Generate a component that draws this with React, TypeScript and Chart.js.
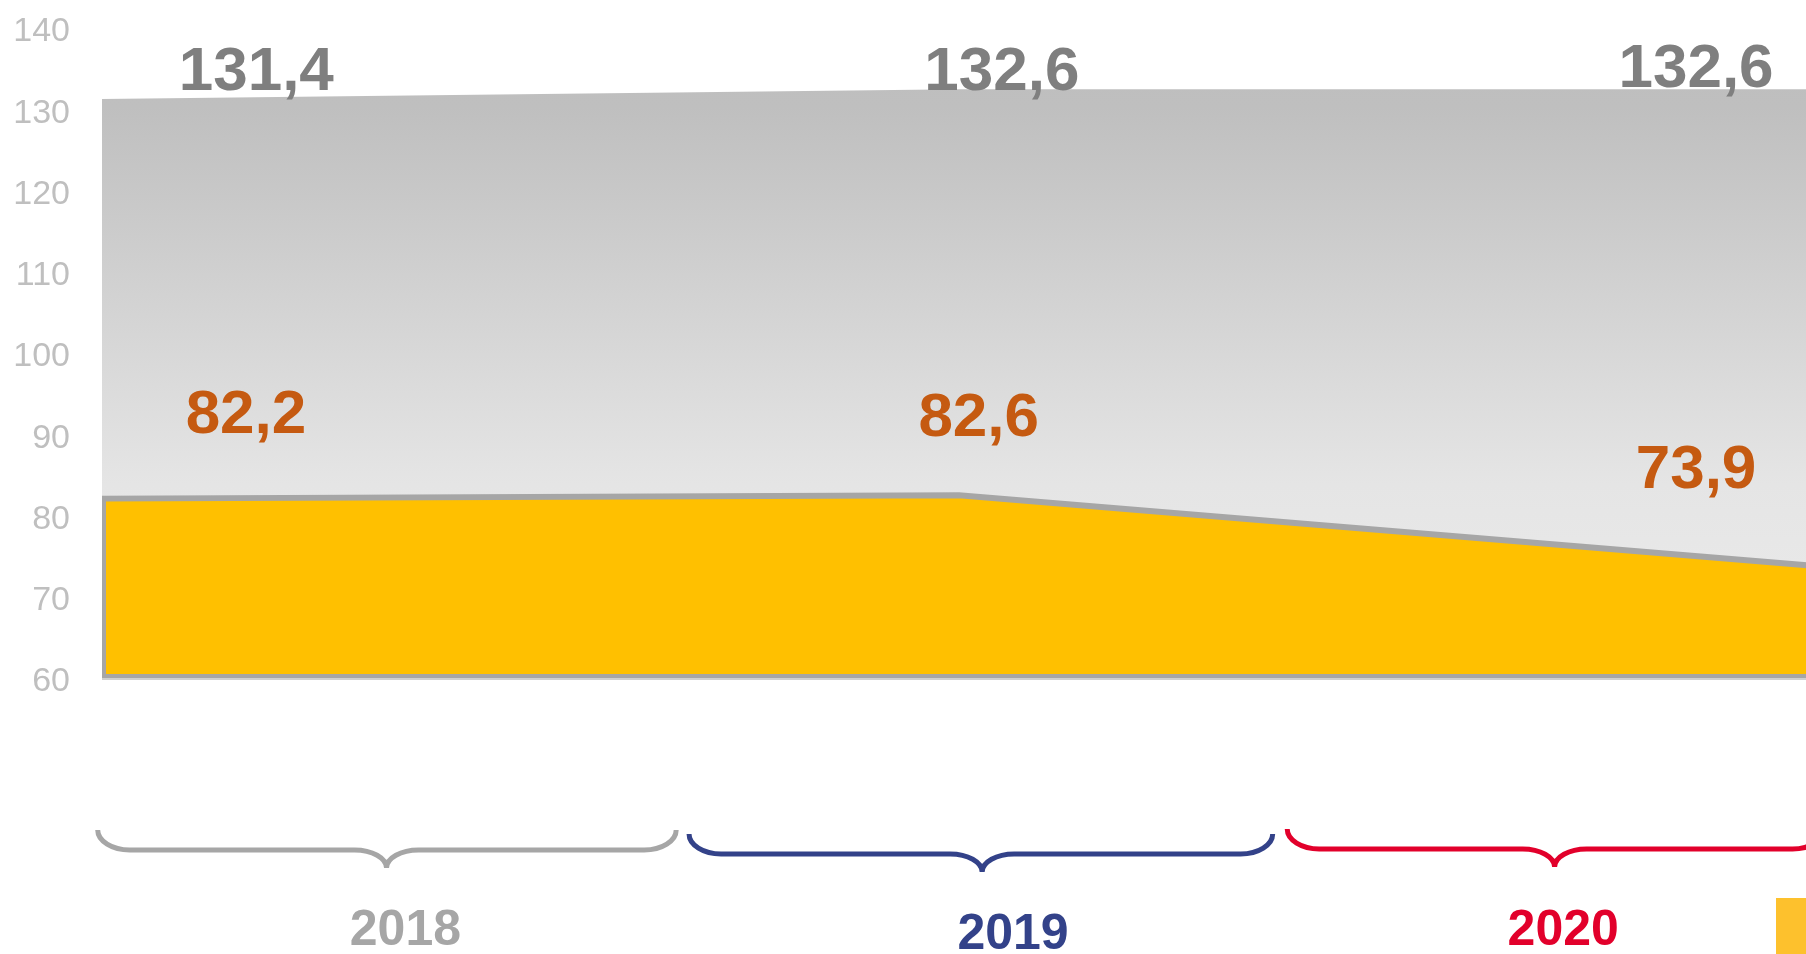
import React, { useEffect, useRef } from "react";
import { Chart, registerables } from "chart.js";

Chart.register(...registerables);

const years = ["2018", "2019", "2020"];
const totalValues = [131.4, 132.6, 132.6];
const partValues = [82.2, 82.6, 73.9];
const totalLabels = ["131,4", "132,6", "132,6"];
const partLabels = ["82,2", "82,6", "73,9"];
const yMin = 60;
const yMax = 140;
const yStep = 10;

// label anchor positions (in category / value units)
const totalLabelAt = [
  [0.18, 134.6],
  [1.05, 134.6],
  [1.86, 135.0],
];
const partLabelAt = [
  [0.168, 92.4],
  [1.023, 92.0],
  [1.86, 85.6],
];
// brace spans (category units): start, tip, end, and label centre
const braceStart = [-0.005, 0.685, 1.383];
const braceTip = [0.332, 1.027, 1.695];
const braceEnd = [0.67, 1.366, 2.01];
const yearLabelX = [0.354, 1.063, 1.705];
const yearColors = ["#a6a6a6", "#334289", "#e2002b"];

const FONT = "'Liberation Sans', Arial, sans-serif";

const overlayPlugin = {
  id: "overlay",
  afterDatasetsDraw(chart: any) {
    const { ctx, chartArea, scales } = chart;
    const xs = scales.x;
    const ys = scales.y;
    ctx.save();
    // yellow polygon left and bottom edges
    const meta = chart.getDatasetMeta(0);
    const p0 = meta.data[0];
    ctx.strokeStyle = "#a6a6a6";
    ctx.lineWidth = 4;
    ctx.beginPath();
    ctx.moveTo(chartArea.left + 2, p0.y);
    ctx.lineTo(chartArea.left + 2, chartArea.bottom - 3);
    ctx.lineTo(chartArea.right + 20, chartArea.bottom - 3);
    ctx.stroke();
    // axis line
    ctx.strokeStyle = "#d0d0d0";
    ctx.lineWidth = 2;
    ctx.beginPath();
    ctx.moveTo(chartArea.left, chartArea.bottom);
    ctx.lineTo(chartArea.right + 20, chartArea.bottom);
    ctx.stroke();

    // value labels
    ctx.textAlign = "center";
    ctx.textBaseline = "middle";
    ctx.font = `bold 62px ${FONT}`;
    ctx.fillStyle = "#7f7f7f";
    totalLabels.forEach((t, i) => {
      ctx.fillText(t, xs.getPixelForValue(totalLabelAt[i][0]), ys.getPixelForValue(totalLabelAt[i][1]));
    });
    ctx.fillStyle = "#c55a11";
    partLabels.forEach((t, i) => {
      ctx.fillText(t, xs.getPixelForValue(partLabelAt[i][0]), ys.getPixelForValue(partLabelAt[i][1]));
    });

    // braces
    const top = chartArea.bottom + 151;
    const line = chartArea.bottom + 171;
    const tipY = chartArea.bottom + 189;
    ctx.lineWidth = 5;
    ctx.lineCap = "butt";
    years.forEach((y, i) => {
      const dy = i === 1 ? 4 : i === 2 ? -1 : 0;
      const t = top + dy, l = line + dy, tp = tipY + dy;
      const x0 = xs.getPixelForValue(braceStart[i]);
      const xm = xs.getPixelForValue(braceTip[i]);
      const x1 = xs.getPixelForValue(braceEnd[i]);
      const r = 32;
      ctx.strokeStyle = yearColors[i];
      ctx.beginPath();
      ctx.moveTo(x0, t);
      ctx.bezierCurveTo(x0, t + 0.55 * (l - t), x0 + r * 0.45, l, x0 + r, l);
      ctx.lineTo(xm - r, l);
      ctx.bezierCurveTo(xm - r * 0.45, l, xm, tp - 0.55 * (tp - l), xm, tp);
      ctx.moveTo(xm, tp);
      ctx.bezierCurveTo(xm, tp - 0.55 * (tp - l), xm + r * 0.45, l, xm + r, l);
      ctx.lineTo(x1 - r, l);
      ctx.bezierCurveTo(x1 - r * 0.45, l, x1, t + 0.55 * (l - t), x1, t);
      ctx.stroke();
      // year label
      ctx.fillStyle = yearColors[i];
      ctx.font = `bold 50px ${FONT}`;
      ctx.fillText(y, xs.getPixelForValue(yearLabelX[i]), chartArea.bottom + 252 + (i === 1 ? 4 : 0));
    });

    // legend swatch fragment at bottom right
    ctx.fillStyle = "#fdc12d";
    ctx.fillRect(1776, 898, 40, 60);
    ctx.restore();
  },
};

export default function App() {
  const ref = useRef<HTMLCanvasElement | null>(null);
  useEffect(() => {
    if (!ref.current) return;
    const chart = new Chart(ref.current, {
      type: "line",
      data: {
        labels: years,
        datasets: [
          {
            label: "part",
            data: partValues,
            borderColor: "#a6a6a6",
            borderWidth: 6,
            backgroundColor: "#ffc000",
            fill: "start",
            pointRadius: 0,
            tension: 0,
          },
          {
            label: "total",
            data: totalValues,
            borderWidth: 0,
            borderColor: "rgba(0,0,0,0)",
            backgroundColor: (c: any) => {
              const ca = c.chart.chartArea;
              if (!ca) return "#cccccc";
              const g = c.chart.ctx.createLinearGradient(0, ca.top, 0, ca.bottom);
              g.addColorStop(0, "#bdbdbd");
              g.addColorStop(0.12, "#bfbfbf");
              g.addColorStop(0.7, "#e5e5e5");
              g.addColorStop(1, "#ececec");
              return g;
            },
            fill: "start",
            pointRadius: 0,
            tension: 0,
          },
        ],
      },
      options: {
        responsive: false,
        animation: false,
        devicePixelRatio: 1,
        layout: { padding: { top: 29, bottom: 275, right: 14, left: 0 } },
        plugins: { legend: { display: false }, tooltip: { enabled: false } },
        scales: {
          x: { type: "category", offset: false, display: false },
          y: {
            min: yMin,
            max: yMax,
            ticks: {
              stepSize: yStep,
              color: "#bfbfbf",
              font: { family: FONT, size: 34 },
              padding: 32,
              labelOffset: 3,
            },
            grid: { display: false, drawTicks: false },
            border: { display: false },
            afterFit: (s: any) => {
              s.width = 102;
              s.paddingTop = 0;
              s.paddingBottom = 0;
            },
          },
        },
      },
      plugins: [overlayPlugin],
    });
    return () => chart.destroy();
  }, []);
  return (
    <div
      style={{
        position: "fixed",
        left: 0,
        top: 0,
        width: 1806,
        height: 954,
        overflow: "hidden",
        background: "#fff",
      }}
    >
      <canvas ref={ref} width={1830} height={954} style={{ width: 1830, height: 954, display: "block" }} />
    </div>
  );
}
